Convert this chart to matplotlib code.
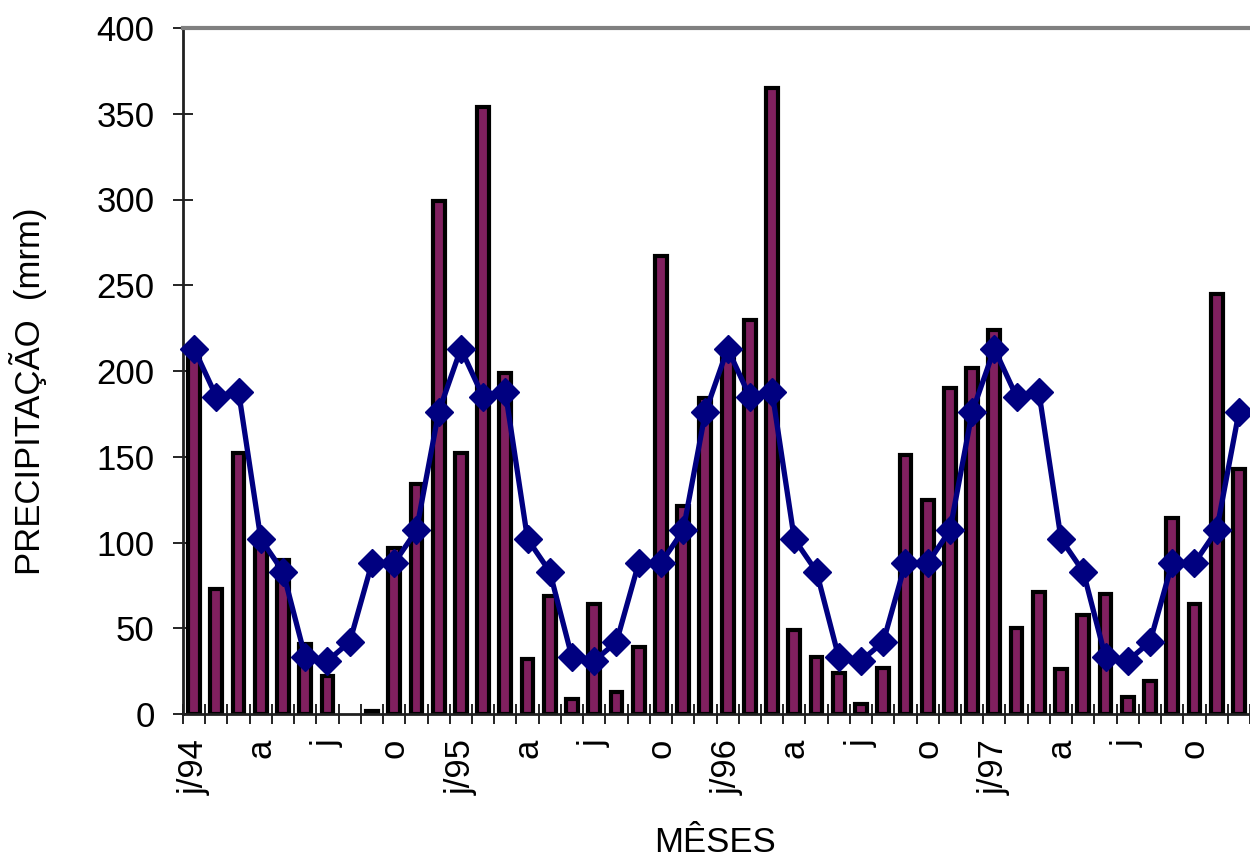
import numpy as np
import matplotlib
matplotlib.use("Agg")
import matplotlib.pyplot as plt

plt.rcParams.update({
    "font.family": ["Liberation Sans", "DejaVu Sans"],
    "font.size": 25,
})

# meses jan/1994 .. dez/1997
MESES = [f"{m}/{a}" for a in (94, 95, 96, 97)
         for m in ["j", "f", "m", "a", "m", "j", "j", "a", "s", "o", "n", "d"]]
ROTULOS = ["j/94", "a", "j", "o", "j/95", "a", "j", "o",
           "j/96", "a", "j", "o", "j/97", "a", "j", "o"]

# precipitacao mensal observada (mm)
PREC = [210, 73, 152, 98, 90, 41, 22, 0, 2, 97, 134, 299,
        152, 354, 199, 32, 69, 9, 64, 13, 39, 267, 121, 184,
        208, 230, 365, 49, 33, 24, 6, 27, 151, 125, 190, 202,
        224, 50, 71, 26, 58, 70, 10, 19, 114, 64, 245, 143]

# media climatologica mensal (repetida a cada ano)
MEDIA_ANO = [213, 185, 188, 102, 83, 33, 31, 42, 88, 88, 107, 176]
MEDIA = MEDIA_ANO * 4

ROXO = "#80205F"
AZUL = "#000080"

fig = plt.figure(figsize=(12.5, 8.59), dpi=100)
ax = fig.add_axes([183 / 1250, 1 - 714 / 859, 1 - 183 / 1250, (714 - 28) / 859])

x = np.arange(len(MESES))
lws = [3.0 if v > 0 else 0 for v in PREC]
ax.bar(x, PREC, width=0.53, color=ROXO, edgecolor="black", linewidth=lws, zorder=2)
ax.plot(x, MEDIA, color=AZUL, linewidth=3.8, marker="D", markersize=14,
        markerfacecolor=AZUL, markeredgecolor=AZUL, zorder=3, clip_on=False)

ax.set_xlim(-0.5, len(MESES) - 0.5)
ax.set_ylim(0, 400)
ax.set_yticks(np.arange(0, 401, 50))
ax.tick_params(axis="y", direction="inout", length=15, width=1.2, pad=13)

ax.set_xticks(x[::3])
ax.set_xticklabels(ROTULOS, rotation=90)
ax.set_xticks(np.arange(-0.5, len(MESES), 1), minor=True)
ax.tick_params(axis="x", which="major", length=0, pad=18)
ax.tick_params(axis="x", which="minor", direction="inout", length=15, width=1.2)

for s in ("left", "bottom"):
    ax.spines[s].set_color("#202020")
    ax.spines[s].set_linewidth(2)
ax.spines["top"].set_color("#808080")
ax.spines["top"].set_linewidth(3)
ax.spines["right"].set_visible(False)

ax.set_xlabel("MÊSES")
ax.set_ylabel("PRECIPITAÇÃO  (mrm)")
ax.yaxis.set_label_coords(-0.127, 0.47)
ax.xaxis.set_label_coords(0.499, -0.163)

fig.savefig("out.png", dpi=100)
